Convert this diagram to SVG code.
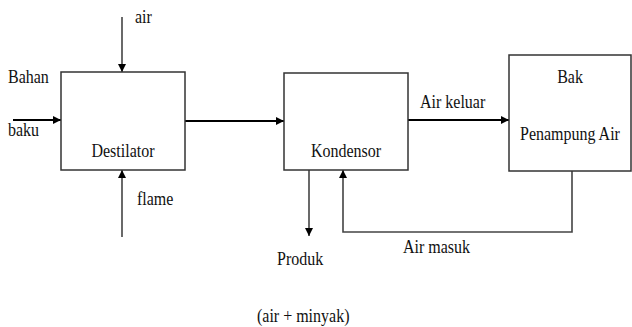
<svg xmlns="http://www.w3.org/2000/svg" width="632" height="327" viewBox="0 0 632 327">
<defs>
<marker id="ah" markerWidth="8" markerHeight="8" refX="8" refY="4" orient="auto" markerUnits="userSpaceOnUse">
<path d="M0,0 L8,4 L0,8 Z" fill="#000"/>
</marker>
<style>
.box{fill:#fff;stroke:#333;stroke-width:1.5}
.ln{fill:none;stroke:#444;stroke-width:1.6}
.lh{fill:none;stroke:#000;stroke-width:2}
.t{font-family:'Liberation Serif','DejaVu Serif',serif;font-size:16px;fill:#111}
</style>
</defs>
<rect width="632" height="327" fill="#fff"/>
<g id="connectors">
<line class="ln" x1="122" y1="17" x2="122" y2="72" marker-end="url(#ah)"/>
<line class="lh" x1="13" y1="120" x2="61" y2="120" marker-end="url(#ah)"/>
<line class="ln" x1="122" y1="237" x2="122" y2="170" marker-end="url(#ah)"/>
<line class="lh" x1="185" y1="121" x2="284" y2="121" marker-end="url(#ah)"/>
<line class="lh" x1="408" y1="120" x2="509" y2="120" marker-end="url(#ah)"/>
<line class="ln" x1="309" y1="170" x2="309" y2="236" marker-end="url(#ah)"/>
<polyline class="ln" points="572,171 572,232 343,232 343,170" marker-end="url(#ah)"/>
</g>
<g id="destilator">
<rect class="box" x="61" y="72" width="124" height="98"/>
<text class="t" font-family="Liberation Serif, serif" transform="translate(123,157) scale(1,1.2)" text-anchor="middle">Destilator</text>
</g>
<g id="kondensor">
<rect class="box" x="284" y="73" width="124" height="97"/>
<text class="t" font-family="Liberation Serif, serif" transform="translate(346,157) scale(1,1.2)" text-anchor="middle">Kondensor</text>
</g>
<g id="bak">
<rect class="box" x="509" y="55" width="122" height="116"/>
<text class="t" font-family="Liberation Serif, serif" transform="translate(570,83) scale(1,1.2)" text-anchor="middle">Bak</text>
<text class="t" font-family="Liberation Serif, serif" transform="translate(520,140) scale(1,1.2)">Penampung Air</text>
</g>
<g id="labels" font-family="Liberation Serif, serif">
<text class="t" transform="translate(135,23) scale(1,1.2)">air</text>
<text class="t" transform="translate(8,83) scale(1,1.2)">Bahan</text>
<text class="t" transform="translate(8,136) scale(1,1.2)">baku</text>
<text class="t" transform="translate(137,205) scale(1,1.2)">flame</text>
<text class="t" transform="translate(420,108) scale(1,1.2)">Air keluar</text>
<text class="t" transform="translate(403,253) scale(1,1.2)">Air masuk</text>
<text class="t" transform="translate(277,265) scale(1,1.2)">Produk</text>
<text class="t" transform="translate(257,322) scale(1,1.2)">(air + minyak)</text>
</g>
</svg>
